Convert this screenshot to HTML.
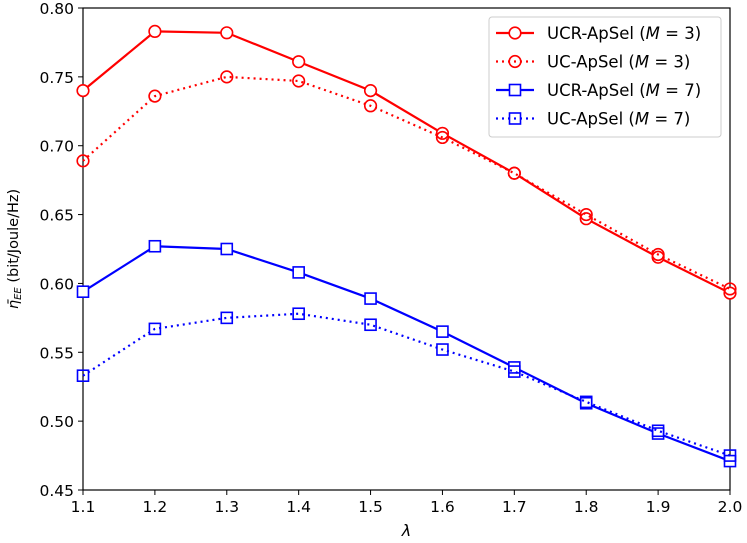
<!DOCTYPE html>
<html><head><meta charset="utf-8"><style>
body{margin:0;background:#fff}
svg{display:block;font-family:"DejaVu Sans","Liberation Sans",sans-serif}
</style></head><body>
<svg id="chart" width="747" height="543" xmlns="http://www.w3.org/2000/svg">
<g id="axes"></g>
<g id="series"></g>
<g id="legend"></g>
</svg>
<script>
const xs = [1.1,1.2,1.3,1.4,1.5,1.6,1.7,1.8,1.9,2.0];
const ucrM3 = [0.740,0.783,0.782,0.761,0.740,0.709,0.680,0.647,0.619,0.593];
const ucM3 = [0.689,0.736,0.750,0.747,0.729,0.706,0.680,0.650,0.621,0.596];
const ucrM7 = [0.594,0.627,0.625,0.608,0.589,0.565,0.539,0.513,0.491,0.471];
const ucM7 = [0.533,0.567,0.575,0.578,0.570,0.552,0.536,0.514,0.493,0.475];
const xTicks = ["1.1","1.2","1.3","1.4","1.5","1.6","1.7","1.8","1.9","2.0"];
const yTicks = ["0.45","0.50","0.55","0.60","0.65","0.70","0.75","0.80"];
const L=83,R=730,T=8,B=490;
const X=v=>L+(v-1.1)/(2.0-1.1)*(R-L);
const Y=v=>B-(v-0.45)/(0.80-0.45)*(B-T);
const NS="http://www.w3.org/2000/svg";
function mk(tag,attrs,parent,text){const e=document.createElementNS(NS,tag);for(const k in attrs)e.setAttribute(k,attrs[k]);if(text!==undefined)e.textContent=text;parent.appendChild(e);return e;}
const axes=document.getElementById('axes');
xTicks.forEach(t=>{const x=X(parseFloat(t));
 const l=mk('line',{x1:x,x2:x,y1:B,y2:B+5,stroke:'#000','stroke-width':1},axes);
 
 
 const tx=mk('text',{x:x,y:B+22,'text-anchor':'middle','font-size':15.5},axes,t);
 
 });
yTicks.forEach(t=>{const y=Y(parseFloat(t));
 const l=mk('line',{x1:L-5,x2:L,y1:y,y2:y,stroke:'#000','stroke-width':1},axes);
 
 
 const tx=mk('text',{x:L-9,y:y+6,'text-anchor':'end','font-size':15.5},axes,t);
 
 });
const fr=mk('rect',{x:L,y:T,width:R-L,height:B-T,fill:'none',stroke:'#000','stroke-width':1.2},axes);


const xl=mk('text',{x:(L+R)/2,y:536,'text-anchor':'middle','font-size':16,'font-style':'italic'},axes,'λ');


const yl=mk('text',{transform:'translate(18,'+((T+B)/2)+') rotate(-90)','text-anchor':'middle','font-size':14.5},axes);


yl.innerHTML='<tspan font-style="italic">η̄</tspan><tspan font-size="10" dy="3" font-style="italic">EE</tspan><tspan dy="-3"> (bit/Joule/Hz)</tspan>';
const series=document.getElementById('series');
const defs=[
 {d:ucrM3,c:'#ff0000',dash:null,m:'circle',s:5.8,name:'ucr-apsel-m3'},
 {d:ucM3,c:'#ff0000',dash:'2,4',m:'circle',s:5.8,name:'uc-apsel-m3'},
 {d:ucrM7,c:'#0000ff',dash:null,m:'square',s:11,name:'ucr-apsel-m7'},
 {d:ucM7,c:'#0000ff',dash:'2,4',m:'square',s:11,name:'uc-apsel-m7'}];
function marker(p,m,s,c,x,y,fill){
 if(m==='circle') return mk('circle',{cx:x,cy:y,r:s,fill:fill,stroke:c,'stroke-width':1.6},p);
 return mk('rect',{x:x-s/2,y:y-s/2,width:s,height:s,fill:fill,stroke:c,'stroke-width':1.6},p);
}
defs.forEach(s=>{
 const g=mk('g',{},series);
 
 
 const pts=s.d.map((v,i)=>X(xs[i])+','+Y(v)).join(' ');
 const pl=mk('polyline',{points:pts,fill:'none',stroke:s.c,'stroke-width':2.2},g);
 if(s.dash)pl.setAttribute('stroke-dasharray',s.dash);
 
 
 s.d.forEach((v,i)=>{const m=marker(g,s.m,s.s,s.c,X(xs[i]),Y(v),s.dash?'none':'#fff');
  
  });
});
const lg=document.getElementById('legend');


mk('rect',{x:489,y:17,width:232,height:120,rx:3,fill:'#fff',stroke:'#ccc','stroke-width':1},lg);
const labels=['UCR-ApSel (','UC-ApSel (','UCR-ApSel (','UC-ApSel ('];
const Ms=['3','3','7','7'];
defs.forEach((s,i)=>{
 const y=33+i*28.5;
 const e=mk('g',{},lg);
 
 
 const l=mk('line',{x1:496,x2:534,y1:y,y2:y,stroke:s.c,'stroke-width':2.2},e);
 if(s.dash)l.setAttribute('stroke-dasharray',s.dash);
 marker(e,s.m,s.s,s.c,515,y,s.dash?'none':'#fff');
 const t=mk('text',{x:547,y:y+6,'font-size':16.5},e);
 t.innerHTML=labels[i]+'<tspan font-style="italic">M</tspan> = '+Ms[i]+')';
});
</script>
</body></html>
